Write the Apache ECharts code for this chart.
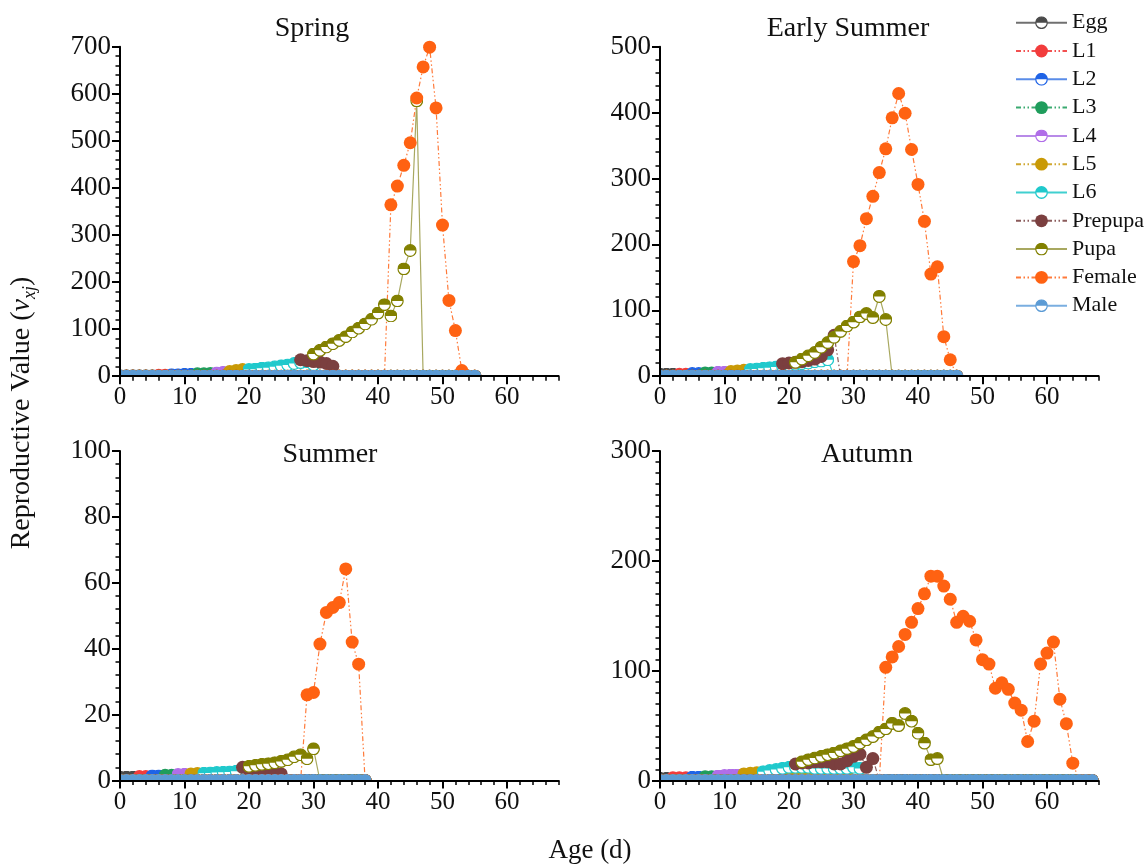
<!DOCTYPE html>
<html>
<head>
<meta charset="utf-8">
<script src="https://cdn.jsdelivr.net/npm/echarts@6/dist/echarts.min.js"></script>
<style>
  html, body { margin: 0; padding: 0; background: #fff; }
  #chart { width: 1148px; height: 867px; }
</style>
</head>
<body>
<div id="chart"></div>
<script>
// stages, in drawing order (Male last so it sits on top of the zero row)
const stages = ['Egg', 'L1', 'L2', 'L3', 'L4', 'L5', 'L6', 'Prepupa', 'Pupa', 'Female', 'Male'];
const xTicks = [0, 10, 20, 30, 40, 50, 60];

// each panel: first age of every stage, its values from that age on, last age drawn (zero elsewhere)
const springStart = [0, 6, 8, 12, 15, 17, 20, 28, 30, 42, 0];
const springValues = [
  [1, 1, 1, 1, 1, 1],
  [2, 2],
  [3, 3, 4, 4],
  [5, 5, 6],
  [7, 8],
  [10, 12, 14],
  [14, 15, 17, 18, 20, 22, 24, 27, 29, 31, 24],
  [35, 33, 31, 30, 27, 21],
  [47, 55, 62, 69, 76, 84, 94, 102, 111, 121, 134, 152, 128, 160, 228, 267, 585],
  [364, 404, 448, 496, 591, 657, 699, 570, 321, 161, 97, 12],
  []
];
const springLast = 55;

const earlyStart = [0, 3, 5, 7, 9, 11, 14, 19, 21, 30, 0];
const earlyValues = [
  [3, 3, 3],
  [3, 3],
  [4, 4],
  [5, 5],
  [6, 6],
  [7, 8, 9],
  [10, 11, 12, 13, 14, 15, 17, 18, 19, 20, 22, 23, 25],
  [19, 20, 21, 22, 24, 26, 30, 40, 62],
  [21, 26, 31, 36, 44, 51, 59, 68, 76, 82, 90, 95, 89, 121, 86],
  [174, 198, 239, 273, 309, 345, 392, 429, 399, 344, 291, 235, 155, 166, 60, 25],
  []
];
const earlyLast = 46;

const summerStart = [0, 3, 5, 7, 9, 11, 13, 19, 20, 29, 0];
const summerValues = [
  [1, 1, 1],
  [1.2, 1.2],
  [1.4, 1.4],
  [1.6, 1.6],
  [1.8, 1.9],
  [2, 2.1],
  [2.2, 2.3, 2.4, 2.5, 2.6, 2.8],
  [4, 3.2, 2.8, 2.6, 2.4, 2.2, 2],
  [4.3, 4.6, 4.9, 5.1, 5.4, 5.8, 6.3, 7.2, 7.8, 6.6, 9.6],
  [26, 26.7, 41.4, 51, 52.5, 54, 64.2, 42, 35.3],
  []
];
const summerLast = 38;

const autumnStart = [0, 2, 5, 7, 9, 13, 16, 21, 22, 35, 0];
const autumnValues = [
  [2, 2],
  [2.5, 2.5, 2.5],
  [3, 3],
  [3.5, 3.5],
  [4, 4.5, 5, 5, 5.5],
  [6, 6.5, 7, 7, 7, 7, 7, 7, 7, 7, 7, 7, 7, 6.5, 6.5, 6, 6],
  [8, 9, 10, 11, 12, 12, 12, 12, 11, 11, 11, 11, 11, 11, 12, 11],
  [15, 16, 16, 17, 17, 17, 15, 15, 18, 22, 24, 12, 20],
  [17, 19, 20.5, 22, 23.5, 25, 27, 29, 31, 34, 37, 40, 44, 47, 52, 50, 61, 54, 43, 34, 19, 20],
  [103, 112.5, 122, 133, 144, 156.5, 170, 186, 186, 177, 165, 144, 149.5, 145, 128, 110, 106,
   84, 89, 83, 70.5, 64, 35.5, 54, 106, 116, 126, 74, 51.7, 15.8],
  []
];
const autumnLast = 67;

// look of each stage
const markColor = ['#4a4a4a', '#f23c3c', '#1f63e6', '#1f9d5c', '#b06ee8', '#c99a06', '#20c9cc', '#7b3f3f', '#828000', '#ff6212', '#5b9bd5'];
const lineColor = ['#707070', '#f25050', '#5a8ce8', '#3aaa70', '#b88ae8', '#d0a830', '#40d0d0', '#8a5a5a', '#a8a860', '#ff7a3a', '#7aaee0'];
const halfFilled = [true, false, true, false, true, false, true, false, true, false, true];
const dashDotDot = [5, 2.5, 1.5, 2.5, 1.5, 2.5];
const serif = 'Liberation Serif';

const panels = [
  { title: 'Spring', start: springStart, vals: springValues, last: springLast, yMax: 700, yStep: 100, minor: 5,
    left: 120, top: 46.7, titleX: 312, titleY: 29 },
  { title: 'Early Summer', start: earlyStart, vals: earlyValues, last: earlyLast, yMax: 500, yStep: 100, minor: 5,
    left: 660, top: 46.7, titleX: 848, titleY: 29 },
  { title: 'Summer', start: summerStart, vals: summerValues, last: summerLast, yMax: 100, yStep: 20, minor: 5,
    left: 120, top: 451, titleX: 330, titleY: 454.5 },
  { title: 'Autumn', start: autumnStart, vals: autumnValues, last: autumnLast, yMax: 300, yStep: 100, minor: 10,
    left: 660, top: 451, titleX: 867, titleY: 454.5 }
];
const gridW = 438.6, gridH = 329.5;

// half-filled circle: top half coloured, bottom half white
function halfSymbol(c) {
  const svg = '<svg xmlns="http://www.w3.org/2000/svg" width="40" height="40" viewBox="0 0 40 40">' +
    '<circle cx="20" cy="20" r="18" fill="#ffffff" stroke="' + c + '" stroke-width="4"/>' +
    '<path d="M2 20 A18 18 0 0 1 38 20 Z" fill="' + c + '"/></svg>';
  return 'image://data:image/svg+xml;charset=utf-8,' + encodeURIComponent(svg);
}

const grids = [], xAxes = [], yAxes = [], series = [], graphics = [];

panels.forEach((p, gi) => {
  grids.push({ left: p.left, top: p.top, width: gridW, height: gridH });

  xAxes.push({
    gridIndex: gi, type: 'value', position: 'bottom', min: 0, max: 68, interval: 10, z: 10,
    axisLine: { lineStyle: { color: '#000', width: 2 } },
    axisTick: { length: 8, lineStyle: { color: '#000', width: 2 }, customValues: xTicks },
    axisLabel: { margin: 9, customValues: xTicks, fontSize: 25, fontFamily: serif, color: '#111' },
    splitLine: { show: false }
  });
  xAxes.push({
    gridIndex: gi, type: 'value', position: 'bottom', min: 0, max: 68, interval: 2, z: 10,
    axisLine: { show: false },
    axisTick: { length: 4.5, lineStyle: { color: '#000', width: 1.5 } },
    axisLabel: { show: false },
    splitLine: { show: false }
  });
  yAxes.push({
    gridIndex: gi, type: 'value', min: 0, max: p.yMax, interval: p.yStep, z: 10,
    axisLine: { show: true, lineStyle: { color: '#000', width: 2 } },
    axisTick: { show: true, length: 8, lineStyle: { color: '#000', width: 2 } },
    minorTick: { show: true, splitNumber: p.minor, length: 4.5, lineStyle: { color: '#000', width: 1.5 } },
    axisLabel: { margin: 9, fontSize: 27, fontFamily: serif, color: '#111' },
    splitLine: { show: false }
  });

  stages.forEach((s, si) => {
    const data = [];
    for (let age = 0; age <= p.last; age++) {
      const k = age - p.start[si];
      const v = (k >= 0 && k < p.vals[si].length) ? p.vals[si][k] : 0;
      data.push([age, v]);
    }
    series.push({
      type: 'line', name: s, xAxisIndex: gi * 2, yAxisIndex: gi, data: data,
      symbol: halfFilled[si] ? halfSymbol(markColor[si]) : 'circle',
      symbolSize: 13, showAllSymbol: true, silent: true, animation: false,
      lineStyle: { color: lineColor[si], width: 1.2, type: halfFilled[si] ? 'solid' : dashDotDot },
      itemStyle: { color: markColor[si], borderWidth: 0 },
      emphasis: { disabled: true }
    });
  });

  // white strips under and left of the axes, so the zero-row markers look cut by the axis
  const bottom = p.top + gridH;
  graphics.push({ type: 'rect', z: 5, silent: true,
    shape: { x: p.left - 10, y: bottom, width: gridW + 20, height: 9 }, style: { fill: '#fff' } });
  graphics.push({ type: 'rect', z: 5, silent: true,
    shape: { x: p.left - 9, y: p.top - 10, width: 9, height: gridH + 19 }, style: { fill: '#fff' } });
  graphics.push({ type: 'text', z: 20, x: p.titleX, y: p.titleY,
    style: { text: p.title, font: '28px "' + serif + '"', fill: '#111', textAlign: 'center', textVerticalAlign: 'middle' } });
});

graphics.push({
  type: 'text', z: 20, x: 22, y: 413, rotation: Math.PI / 2,
  style: {
    text: '{a|Reproductive Value (}{i|v}{s|xj}{a|)}',
    textAlign: 'center', textVerticalAlign: 'middle', fill: '#111',
    rich: {
      a: { fontSize: 28, fontFamily: serif, lineHeight: 34, verticalAlign: 'middle', color: '#111' },
      i: { fontSize: 28, fontFamily: serif, fontStyle: 'italic', lineHeight: 34, verticalAlign: 'middle', color: '#111' },
      s: { fontSize: 18, fontFamily: serif, fontStyle: 'italic', lineHeight: 19, verticalAlign: 'bottom', color: '#111' }
    }
  }
});
graphics.push({ type: 'text', z: 20, x: 590, y: 851,
  style: { text: 'Age (d)', font: '27px "' + serif + '"', fill: '#111', textAlign: 'center', textVerticalAlign: 'middle' } });

const chart = echarts.init(document.getElementById('chart'), null, { renderer: 'canvas' });
chart.setOption({
  animation: false,
  backgroundColor: '#fff',
  legend: {
    data: stages, orient: 'vertical', left: 1015, top: 11.7, padding: 0,
    itemWidth: 51, itemHeight: 16, itemGap: 6.3, selectedMode: false,
    textStyle: { fontSize: 22, fontFamily: serif, color: '#111' }
  },
  grid: grids,
  xAxis: xAxes,
  yAxis: yAxes,
  series: series,
  graphic: graphics
});
</script>
</body>
</html>
